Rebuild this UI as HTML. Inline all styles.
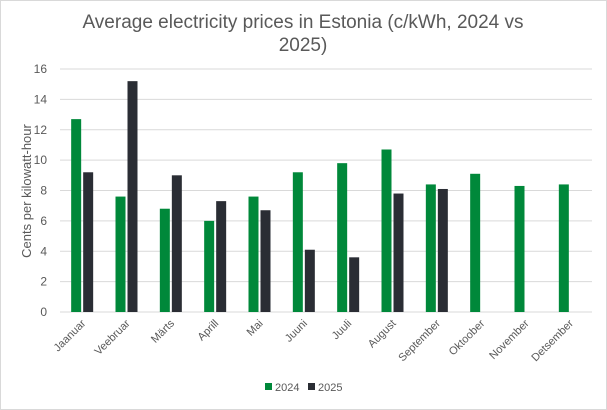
<!DOCTYPE html>
<html><head><meta charset="utf-8"><style>
body{margin:0;background:#fff;}
svg{display:block;font-family:"Liberation Sans",sans-serif;}
</style></head><body>
<svg width="607" height="410" id="chart">
<rect x="0.5" y="0.5" width="606" height="409" fill="#fff" stroke="#d9d9d9"/>
<text x="303" y="28" font-size="19" fill="#595959" text-anchor="middle">Average electricity prices in Estonia (c/kWh, 2024 vs</text>
<text x="303" y="51" font-size="19" fill="#595959" text-anchor="middle">2025)</text>
<text transform="translate(31,191) rotate(-90)" font-size="13" fill="#595959" text-anchor="middle">Cents per kilowatt-hour</text>
<g id="grid"></g><g id="bars"></g><g id="xl"></g>
<g>
<rect x="265" y="383" width="7" height="7" fill="#00883a"/>
<text x="275" y="391" font-size="11" fill="#595959">2024</text>
<rect x="308" y="383" width="7" height="7" fill="#2a2d34"/>
<text x="318" y="391" font-size="11" fill="#595959">2025</text>
</g>
</svg>
<script>
const categories=["Jaanuar","Veebruar","Märts","Aprill","Mai","Juuni","Juuli","August","September","Oktoober","November","Detsember"];
const values2024=[12.7,7.6,6.8,6.0,7.6,9.2,9.8,10.7,8.4,9.1,8.3,8.4];
const values2025=[9.2,15.2,9.0,7.3,6.7,4.1,3.6,7.8,8.1,null,null,null];
const yTicks=[0,2,4,6,8,10,12,14,16];
const NS="http://www.w3.org/2000/svg";
const x0=60,x1=592,yTop=69,yBot=312,yMax=16;
const bw=(x1-x0)/categories.length;
const y=v=>yBot-(v/yMax)*(yBot-yTop);
function mk(t,a,p){const e=document.createElementNS(NS,t);for(const k in a)e.setAttribute(k,a[k]);p.appendChild(e);return e;}
const grid=document.getElementById('grid'),bars=document.getElementById('bars'),xl=document.getElementById('xl');
yTicks.forEach(t=>{
 const l=mk('line',{x1:x0,x2:x1,y1:y(t),y2:y(t),stroke:'#d9d9d9','stroke-width':1},grid);
 
 
 const tx=mk('text',{x:47,y:y(t)+4,'font-size':12,fill:'#595959','text-anchor':'end'},grid);
 tx.textContent=t;
 
 
});
categories.forEach((c,i)=>{
 const cx=x0+bw*(i+0.5);
 const a=values2024[i];
 if(a!=null){const r=mk('rect',{x:cx-11,y:y(a),width:10,height:yBot-y(a),fill:'#00883a'},bars);
  
  }
 const b=values2025[i];
 if(b!=null){const r=mk('rect',{x:cx+1,y:y(b),width:10,height:yBot-y(b),fill:'#2a2d34'},bars);
  
  }
 const t=mk('text',{transform:`translate(${cx+4},${yBot+12}) rotate(-45)`,'font-size':11,fill:'#595959','text-anchor':'end'},xl);
 t.textContent=c;
 
 
});
</script>
</body></html>
